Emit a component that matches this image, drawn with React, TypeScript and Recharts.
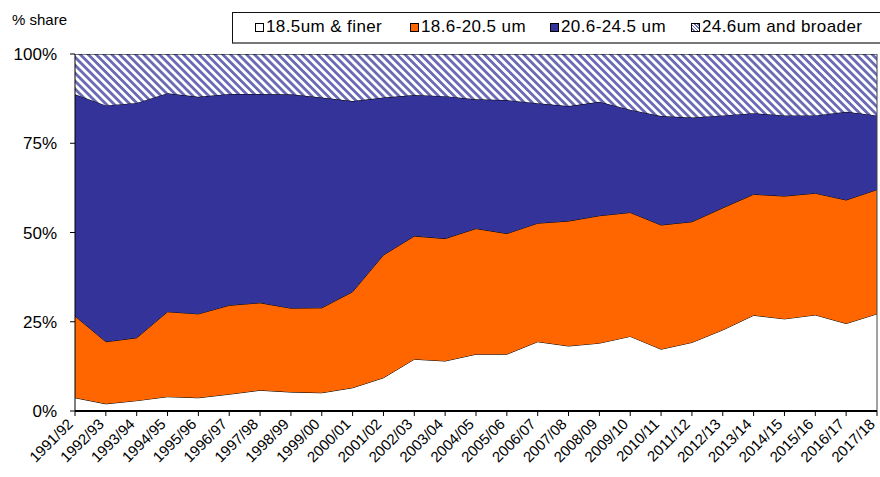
import React from 'react'
import { AreaChart, Area, XAxis, YAxis, ReferenceLine } from 'recharts'

const seasons = [
  '1991/92', '1992/93', '1993/94', '1994/95', '1995/96', '1996/97', '1997/98', '1998/99', '1999/00',
  '2000/01', '2001/02', '2002/03', '2003/04', '2004/05', '2005/06', '2006/07', '2007/08', '2008/09',
  '2009/10', '2010/11', '2011/12', '2012/13', '2013/14', '2014/15', '2015/16', '2016/17', '2017/18',
]

// % share of each micron band
const finer = [3.7, 2.0, 2.9, 4.0, 3.7, 4.7, 5.8, 5.3, 5.1, 6.5, 9.3, 14.5, 14.0, 15.9, 15.9, 19.4, 18.2, 19.0, 20.9, 17.3, 19.2, 22.7, 26.8, 25.8, 26.9, 24.5, 27.2]
const mid = [22.9, 17.4, 17.6, 23.8, 23.5, 24.9, 24.5, 23.5, 23.8, 26.9, 34.4, 34.5, 34.3, 35.2, 33.8, 33.2, 35.0, 35.7, 34.7, 34.8, 33.8, 34.2, 33.9, 34.4, 34.1, 34.6, 34.8]
const medium = [62.1, 66.2, 65.8, 61.2, 60.8, 59.2, 58.5, 59.9, 58.9, 53.4, 44.1, 39.5, 39.9, 36.2, 37.4, 33.6, 32.2, 31.9, 28.8, 30.5, 29.2, 25.9, 22.7, 22.6, 21.8, 24.7, 20.8]
const broad = [11.3, 14.4, 13.7, 11.0, 12.0, 11.2, 11.2, 11.3, 12.2, 13.2, 12.2, 11.5, 11.8, 12.7, 12.9, 13.8, 14.6, 13.4, 15.6, 17.4, 17.8, 17.2, 16.6, 17.2, 17.2, 16.2, 17.2]

const seriesNames = ['18.5um & finer', '18.6-20.5 um', '20.6-24.5 um', '24.6um and broader']
const yTicks = [0, 25, 50, 75, 100]

const data = seasons.map((s, i) => ({
  season: s,
  finer: finer[i],
  mid: mid[i],
  medium: medium[i],
  broad: broad[i],
}))

const FONT = '"Liberation Sans", Arial, sans-serif'
const ORANGE = '#ff6600'
const BLUE = '#333399'

const XTick = (props: any) => {
  const { x, y, payload } = props
  const tx = x - 1
  const ty = y + 7
  return (
    <text x={tx} y={ty} transform={`rotate(-45 ${tx} ${ty})`} textAnchor="end" fontSize={15} fontFamily={FONT} fill="#000">
      {payload.value}
    </text>
  )
}

const swatch = (bg: string) => ({
  display: 'inline-block',
  boxSizing: 'border-box' as const,
  width: 9,
  height: 9,
  border: '1px solid #000',
  background: bg,
  marginRight: 2,
})

// left offset of each legend entry inside the box
const legendLeft = [22, 177, 317, 458]

const LegendBox = () => {
  const fills = [
    '#fff',
    ORANGE,
    BLUE,
    `repeating-linear-gradient(45deg, #fff 0 1.2px, #6a6ab5 1.2px 2.4px)`,
  ]
  return (
    <div
      style={{
        position: 'absolute',
        left: 232,
        top: 12,
        boxSizing: 'border-box',
        width: 650,
        height: 32,
        border: '1px solid #111',
        borderBottom: '2px solid #777',
        background: '#fff',
        fontFamily: FONT,
        fontSize: 17,
        letterSpacing: 0.4,
        color: '#000',
      }}
    >
      {seriesNames.map((n, i) => (
        <span
          key={n}
          style={{ position: 'absolute', left: legendLeft[i], top: 4, display: 'inline-flex', alignItems: 'center', whiteSpace: 'nowrap' }}
        >
          <span style={swatch(fills[i])} />
          {n}
        </span>
      ))}
    </div>
  )
}

export default function App() {
  return (
    <div style={{ position: 'relative', width: 880, height: 477, background: '#fff', overflow: 'hidden' }}>
      <style>{'body{margin:0}'}</style>
      <div style={{ position: 'absolute', left: 12, top: 11, fontFamily: FONT, fontSize: 15 }}>% share</div>
      <AreaChart width={880} height={477} data={data} margin={{ top: 54, right: 3, bottom: 0, left: 30 }}>
        <defs>
          <pattern id="hatch" patternUnits="userSpaceOnUse" width={5.6} height={5.6} patternTransform="rotate(-45)">
            <rect width={5.6} height={5.6} fill="#fff" />
            <rect width={2.8} height={5.6} fill="#6a6ab5" />
          </pattern>
        </defs>
        <XAxis
          dataKey="season"
          height={66}
          interval={0}
          tick={<XTick />}
          tickSize={5}
          axisLine={{ stroke: '#000', strokeWidth: 2 }}
          tickLine={{ stroke: '#000' }}
        />
        <YAxis
          width={45}
          domain={[0, 100]}
          ticks={yTicks}
          allowDataOverflow
          tickFormatter={(v: number) => `${v}%`}
          tick={{ fill: '#000', fontSize: 17, fontFamily: FONT }}
          tickSize={5}
          tickMargin={13}
          axisLine={{ stroke: '#000' }}
          tickLine={{ stroke: '#000' }}
        />
        <Area type="linear" dataKey="finer" name={seriesNames[0]} stackId="a" fill="#fff" fillOpacity={1} stroke="#000" strokeWidth={1} isAnimationActive={false} />
        <Area type="linear" dataKey="mid" name={seriesNames[1]} stackId="a" fill={ORANGE} fillOpacity={1} stroke="#000" strokeWidth={1} isAnimationActive={false} />
        <Area type="linear" dataKey="medium" name={seriesNames[2]} stackId="a" fill={BLUE} fillOpacity={1} stroke="#000" strokeWidth={1} isAnimationActive={false} />
        <Area type="linear" dataKey="broad" name={seriesNames[3]} stackId="a" fill="url(#hatch)" fillOpacity={1} stroke="#000" strokeWidth={1} isAnimationActive={false} />
        <ReferenceLine x={seasons[seasons.length - 1]} stroke="#444" strokeWidth={1} />
      </AreaChart>
      <LegendBox />
    </div>
  )
}
